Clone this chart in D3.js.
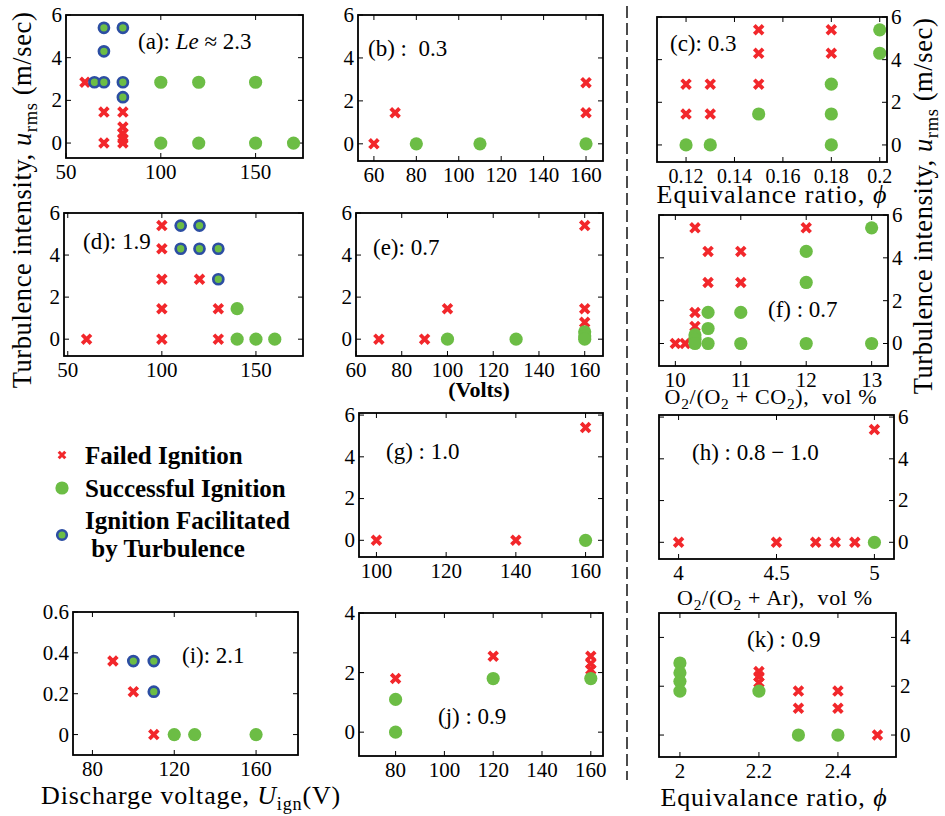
<!DOCTYPE html>
<html>
<head>
<meta charset="utf-8">
<script src="https://cdn.jsdelivr.net/npm/d3@7"></script>
<style>
  body { margin: 0; background: #fff; }
  svg { display: block; font-family: "Liberation Serif", "Times New Roman", serif; }
  text { white-space: pre; }
</style>
</head>
<body>
<div id="chart"></div>
<script>
// points are [x, u_rms]; failed / successful / facilitated by turbulence
const aFailed  = [[60,2.85],[70,1.45],[70,0],[80,1.45],[80,0.75],[80,0.45],[80,0.2],[80,0]];
const aSuccess = [[100,2.85],[120,2.85],[150,2.85],[100,0],[120,0],[150,0],[170,0]];
const aFacil   = [[65,2.85],[70,2.85],[70,4.3],[70,5.4],[80,5.4],[80,2.85],[80,2.15]];

const bFailed  = [[60,0],[70,1.45],[160,2.85],[160,1.45]];
const bSuccess = [[80,0],[110,0],[160,0]];

const cFailed  = [[0.12,2.85],[0.12,1.45],[0.13,2.85],[0.13,1.45],[0.15,5.4],[0.15,4.3],[0.15,2.85],[0.18,5.4],[0.18,4.3]];
const cSuccess = [[0.12,0],[0.13,0],[0.15,1.45],[0.18,2.85],[0.18,1.45],[0.18,0],[0.2,5.4],[0.2,4.3]];

const dFailed  = [[60,0],[100,5.4],[100,4.3],[100,2.85],[100,1.45],[100,0],[120,2.85],[130,1.45],[130,0]];
const dSuccess = [[140,1.45],[140,0],[150,0],[160,0]];
const dFacil   = [[110,5.4],[120,5.4],[110,4.3],[120,4.3],[130,4.3],[130,2.85]];

const eFailed  = [[70,0],[90,0],[100,1.45],[160,5.4],[160,1.45],[160,0.8]];
const eSuccess = [[100,0],[130,0],[160,0.35],[160,0.15],[160,0]];

const fFailed  = [[10,0],[10.15,0],[10.3,5.4],[10.3,1.45],[10.3,0.8],[10.5,4.3],[10.5,2.85],[11,4.3],[11,2.85],[12,5.4]];
const fSuccess = [[10.3,0.4],[10.3,0.2],[10.3,0],[10.5,1.45],[10.5,0.7],[10.5,0],[11,1.45],[11,0],[12,4.3],[12,2.85],[12,0],[13,5.4],[13,0]];

const gFailed  = [[100,0],[140,0],[160,5.4]];
const gSuccess = [[160,0]];

const hFailed  = [[4,0],[4.5,0],[4.7,0],[4.8,0],[4.9,0],[5,5.4]];
const hSuccess = [[5,0]];

const iFailed  = [[90,0.36],[100,0.21],[110,0]];
const iSuccess = [[120,0],[130,0],[160,0]];
const iFacil   = [[100,0.36],[110,0.36],[110,0.21]];

const jFailed  = [[80,1.8],[120,2.55],[160,2.55],[160,2.3],[160,2.1]];
const jSuccess = [[80,1.1],[80,0],[120,1.8],[160,1.8]];

const kFailed  = [[2.2,2.6],[2.2,2.4],[2.2,2.15],[2.3,1.8],[2.3,1.1],[2.4,1.8],[2.4,1.1],[2.5,0]];
const kSuccess = [[2,2.95],[2,2.55],[2,2.2],[2,1.8],[2.2,1.8],[2.3,0],[2.4,0]];

// tick values
const uTicks = [0, 2, 4, 6];
const voltTicks50 = [50, 100, 150];
const voltTicks20 = [60, 80, 100, 120, 140, 160];
const phiTicksC = [0.12, 0.14, 0.16, 0.18, 0.2];
const co2Ticks = [10, 11, 12, 13];
const voltTicksG = [100, 120, 140, 160];
const arTicks = [4, 4.5, 5];
const uTicksI = [0, 0.2, 0.4, 0.6];
const voltTicksI = [80, 120, 160];
const voltTicksJ = [80, 100, 120, 140, 160];
const uTicksJ = [0, 2, 4];
const phiTicksK = [2, 2.2, 2.4];

const RED = "#f2272b", GREEN = "#6cbd45", BLUE = "#2c4ea3";
const tickFs = 21, labelFs = 23, titleFs = 26;

const panels = [
  {box:[66,15,303,158], x:[50,175], y:[-0.7,6], xt:voltTicks50, yt:uTicks, side:"left",
   failed:aFailed, success:aSuccess, facil:aFacil, lx:138, ly:49,
   label:[{t:"(a): "},{t:"Le",it:1},{t:" ≈ 2.3"}]},
  {box:[358,15,603,161], x:[52.5,168], y:[-0.8,6], xt:voltTicks20, yt:uTicks, side:"left",
   failed:bFailed, success:bSuccess, lx:368, ly:56, label:[{t:"(b) :  0.3"}]},
  {box:[657,17,887,162], x:[0.108,0.203], y:[-0.8,6], xt:phiTicksC, yt:uTicks, side:"right", tfs:20,
   failed:cFailed, success:cSuccess, lx:670, ly:51, label:[{t:"(c): 0.3"}]},
  {box:[64,213,303,356], x:[48,175], y:[-0.8,6], xt:voltTicks50, yt:uTicks, side:"left",
   failed:dFailed, success:dSuccess, facil:dFacil, lx:83, ly:249, label:[{t:"(d): 1.9"}]},
  {box:[356,213,603,356], x:[60,168], y:[-0.8,6], xt:voltTicks20, yt:uTicks, side:"left",
   failed:eFailed, success:eSuccess, lx:373, ly:255, label:[{t:"(e): 0.7"}]},
  {box:[659,215,888,366], x:[9.75,13.25], y:[-1.05,6], xt:co2Ticks, yt:uTicks, side:"right",
   failed:fFailed, success:fSuccess, lx:768, ly:317, label:[{t:"(f) : 0.7"}]},
  {box:[359,413,603,557], x:[95,165], y:[-0.8,6.1], xt:voltTicksG, yt:uTicks, side:"left",
   failed:gFailed, success:gSuccess, lx:386, ly:459, label:[{t:"(g) : 1.0"}]},
  {box:[659,415,894,559], x:[3.9,5.1], y:[-0.8,6.1], xt:arTicks, yt:uTicks, side:"right",
   failed:hFailed, success:hSuccess, lx:692, ly:460, label:[{t:"(h) : 0.8 − 1.0"}]},
  {box:[73,612,298,755], x:[70.5,180.5], y:[-0.1,0.6], xt:voltTicksI, yt:uTicksI, side:"left",
   failed:iFailed, success:iSuccess, facil:iFacil, lx:182, ly:663, label:[{t:"(i): 2.1"}]},
  {box:[359,613,603,756], x:[65,165], y:[-0.8,4], xt:voltTicksJ, yt:uTicksJ, side:"left",
   failed:jFailed, success:jSuccess, lx:438, ly:724, label:[{t:"(j) : 0.9"}]},
  {box:[659,613,896,757], x:[1.947,2.547], y:[-0.9,5], xt:phiTicksK, yt:uTicksJ, side:"right",
   failed:kFailed, success:kSuccess, lx:747, ly:647, label:[{t:"(k) : 0.9"}]}
];

const svg = d3.select("#chart").append("svg")
  .attr("width", 945).attr("height", 816);

// text with italic / subscript pieces
function rich(sel, parts, fs) {
  let shift = 0;
  parts.forEach(p => {
    const t = sel.append("tspan").text(p.t);
    const target = p.sub ? fs * 0.24 : 0;
    if (target !== shift) { t.attr("dy", target - shift); shift = target; }
    if (p.sub) t.attr("font-size", fs * 0.7);
    if (p.it) t.attr("font-style", "italic");
  });
}

const crossPath = h => `M${-h},${-h}L${h},${h}M${-h},${h}L${h},${-h}`;

function drawPanel(p) {
  const [x0, y0, x1, y1] = p.box;
  const x = d3.scaleLinear().domain(p.x).range([x0, x1]);
  const y = d3.scaleLinear().domain(p.y).range([y1, y0]);
  const g = svg.append("g");
  const fs = p.tfs || tickFs;

  // inward ticks on all four sides
  const tl = 5;
  p.xt.forEach(v => {
    g.append("line").attr("x1", x(v)).attr("x2", x(v)).attr("y1", y1).attr("y2", y1 - tl)
      .attr("stroke", "#000").attr("stroke-width", 1);
    g.append("line").attr("x1", x(v)).attr("x2", x(v)).attr("y1", y0).attr("y2", y0 + tl)
      .attr("stroke", "#000").attr("stroke-width", 1);
  });
  p.yt.forEach(v => {
    g.append("line").attr("x1", x0).attr("x2", x0 + tl).attr("y1", y(v)).attr("y2", y(v))
      .attr("stroke", "#000").attr("stroke-width", 1);
    g.append("line").attr("x1", x1).attr("x2", x1 - tl).attr("y1", y(v)).attr("y2", y(v))
      .attr("stroke", "#000").attr("stroke-width", 1);
  });

  g.selectAll(".xt").data(p.xt).join("text")
    .attr("x", d => x(d)).attr("y", y1 + 21)
    .attr("text-anchor", "middle").attr("font-size", fs)
    .text(d => String(d));

  g.selectAll(".yt").data(p.yt).join("text")
    .attr("x", p.side === "left" ? x0 - 4 : x1 + 4)
    .attr("y", d => y(d)).attr("dy", "0.33em")
    .attr("text-anchor", p.side === "left" ? "end" : "start")
    .attr("font-size", tickFs)
    .text(d => String(d));

  // markers
  g.selectAll(".fail").data(p.failed).join("path")
    .attr("d", crossPath(4.4))
    .attr("transform", d => `translate(${x(d[0])},${y(d[1])})`)
    .attr("stroke", RED).attr("stroke-width", 3.8).attr("fill", "none");

  g.selectAll(".ok").data(p.success).join("circle")
    .attr("cx", d => x(d[0])).attr("cy", d => y(d[1])).attr("r", 6.6)
    .attr("fill", GREEN);

  g.selectAll(".facil").data(p.facil || []).join("circle")
    .attr("cx", d => x(d[0])).attr("cy", d => y(d[1])).attr("r", 5)
    .attr("fill", GREEN).attr("stroke", BLUE).attr("stroke-width", 2.7);

  rich(g.append("text").attr("x", p.lx).attr("y", p.ly).attr("font-size", labelFs), p.label, labelFs);

  g.append("rect")
    .attr("x", x0).attr("y", y0).attr("width", x1 - x0).attr("height", y1 - y0)
    .attr("fill", "none").attr("stroke", "#000").attr("stroke-width", 1.8);
}

panels.forEach(drawPanel);

// dashed divider between the left and right columns
svg.append("line")
  .attr("x1", 627).attr("x2", 627).attr("y1", 6).attr("y2", 780)
  .attr("stroke", "#000").attr("stroke-width", 1.4).attr("stroke-dasharray", "12,5");

// axis titles
const uTitle = [{t:"Turbulence intensity, "},{t:"u",it:1},{t:"rms",sub:1},{t:" (m/sec)"}];
rich(svg.append("text").attr("transform", "translate(31,200) rotate(-90)")
  .attr("text-anchor", "middle").attr("font-size", 26.5).attr("letter-spacing", 0.6), uTitle, 26.5);
rich(svg.append("text").attr("transform", "translate(932,206) rotate(-90)")
  .attr("text-anchor", "middle").attr("font-size", 26.5).attr("letter-spacing", 0.6), uTitle, 26.5);

const phi = "\u03D5";
const xTitles = [
  {x:191, y:804, ls:0.8, parts:[{t:"Discharge voltage, "},{t:"U",it:1},{t:"ign",sub:1},{t:"(V)"}]},
  {x:772, y:203, ls:1.1, parts:[{t:"Equivalance ratio, "},{t:phi,it:1}]},
  {x:774, y:806, ls:0.9, parts:[{t:"Equivalance ratio, "},{t:phi,it:1}]},
  {x:771, y:404, ls:0.7, fs:22, parts:[{t:"O"},{t:"2",sub:1},{t:"/(O"},{t:"2",sub:1},{t:" + CO"},{t:"2",sub:1},{t:"),  vol %"}]},
  {x:775, y:605, ls:0.7, fs:22, parts:[{t:"O"},{t:"2",sub:1},{t:"/(O"},{t:"2",sub:1},{t:" + Ar),  vol %"}]}
];
xTitles.forEach(t => {
  const fs = t.fs || titleFs;
  rich(svg.append("text").attr("x", t.x).attr("y", t.y)
    .attr("text-anchor", "middle").attr("font-size", fs).attr("letter-spacing", t.ls), t.parts, fs);
});

svg.append("text").attr("x", 479).attr("y", 397)
  .attr("text-anchor", "middle").attr("font-size", 22).attr("font-weight", "bold")
  .text("(Volts)");

// legend
const legend = svg.append("g").attr("font-size", 25).attr("font-weight", "bold");
legend.append("path").attr("d", crossPath(3.3))
  .attr("transform", "translate(62,455)")
  .attr("stroke", RED).attr("stroke-width", 3).attr("fill", "none");
legend.append("circle").attr("cx", 62).attr("cy", 488).attr("r", 6.6).attr("fill", GREEN);
legend.append("circle").attr("cx", 62).attr("cy", 535).attr("r", 4.8)
  .attr("fill", GREEN).attr("stroke", BLUE).attr("stroke-width", 2.6);
legend.append("text").attr("x", 85).attr("y", 464).text("Failed Ignition");
legend.append("text").attr("x", 85).attr("y", 497).text("Successful Ignition");
legend.append("text").attr("x", 85).attr("y", 529).text("Ignition Facilitated");
legend.append("text").attr("x", 85).attr("y", 557).text(" by Turbulence");
</script>
</body>
</html>
